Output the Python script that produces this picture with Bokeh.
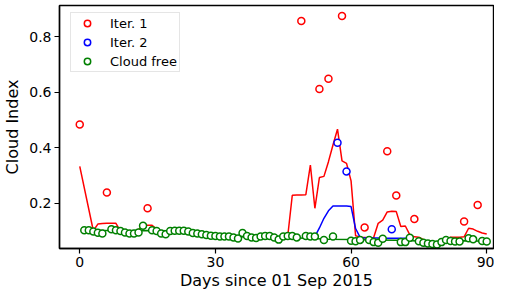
from bokeh.plotting import figure
from bokeh.models import Range1d, FixedTicker, Legend, LegendItem
from bokeh.embed import file_html
from bokeh.resources import INLINE

# ---- data ----
cloudfree_days = [1, 2, 3, 4, 5, 7, 8, 9, 10, 11, 12, 13, 14, 16, 17, 18, 19, 20,
                  21, 22, 23, 24, 25, 26, 27, 28, 29, 30, 31, 32, 33, 34, 35, 36,
                  37, 38, 39, 40, 41, 42, 43, 44, 45, 46, 47, 48, 50, 51, 52, 54,
                  56, 60, 61, 62, 64, 65, 66, 67, 71, 72, 73, 75, 76, 77, 78, 79,
                  80, 81, 82, 83, 84, 86, 87, 89, 90]
cloudfree_vals = [0.102, 0.102, 0.097, 0.093, 0.090, 0.105, 0.102, 0.099, 0.094,
                  0.090, 0.090, 0.094, 0.118, 0.102, 0.099, 0.090, 0.087, 0.099,
                  0.100, 0.100, 0.100, 0.097, 0.092, 0.090, 0.087, 0.085, 0.082,
                  0.081, 0.079, 0.079, 0.079, 0.076, 0.072, 0.092, 0.081, 0.076,
                  0.074, 0.079, 0.081, 0.081, 0.076, 0.068, 0.079, 0.081, 0.081,
                  0.076, 0.081, 0.079, 0.079, 0.067, 0.079, 0.064, 0.062, 0.067,
                  0.067, 0.059, 0.057, 0.071, 0.059, 0.059, 0.075, 0.062, 0.057,
                  0.054, 0.052, 0.050, 0.059, 0.067, 0.063, 0.061, 0.061, 0.073,
                  0.069, 0.063, 0.061]

iter1_days = [0, 6, 15, 49, 53, 55, 58, 63, 68, 70, 74, 85, 88]
iter1_vals = [0.483, 0.238, 0.181, 0.856, 0.611, 0.648, 0.874, 0.112, 0.387,
              0.227, 0.142, 0.133, 0.193]

iter2_days = [57, 59, 69]
iter2_vals = [0.417, 0.314, 0.105]

red_line_days = [0, 3, 4, 5, 6, 7, 8, 9, 10, 11, 12, 13, 14, 15, 16, 17, 18, 19,
                 20, 21, 22, 23, 24, 25, 26, 27, 28, 29, 30, 31, 32, 33, 34, 35,
                 36, 37, 38, 39, 40, 41, 42, 43, 44, 45, 46, 47, 48, 49, 50, 51,
                 52, 53, 54, 55, 56, 57, 58, 59, 60, 61, 62, 63, 64, 65, 66, 67,
                 68, 69, 70, 71, 72, 73, 74, 75, 76, 77, 78, 79, 80, 81, 82, 83,
                 84, 85, 86, 87, 88, 89, 90]
red_line_vals = [0.332, 0.100, 0.124, 0.126, 0.127, 0.127, 0.127, 0.099, 0.094,
                 0.090, 0.090, 0.104, 0.118, 0.120, 0.120, 0.106, 0.090, 0.087,
                 0.099, 0.100, 0.100, 0.100, 0.097, 0.092, 0.090, 0.087, 0.085,
                 0.082, 0.081, 0.079, 0.079, 0.079, 0.076, 0.072, 0.085, 0.081,
                 0.076, 0.074, 0.079, 0.081, 0.081, 0.076, 0.072, 0.079, 0.081,
                 0.228, 0.229, 0.229, 0.230, 0.337, 0.181, 0.292, 0.296, 0.349,
                 0.409, 0.466, 0.352, 0.343, 0.280, 0.082, 0.077, 0.076, 0.075,
                 0.076, 0.127, 0.138, 0.168, 0.170, 0.169, 0.115, 0.117, 0.085,
                 0.078, 0.077, 0.068, 0.054, 0.052, 0.050, 0.059, 0.067, 0.077,
                 0.077, 0.077, 0.078, 0.109, 0.106, 0.098, 0.092, 0.088]

blue_line_days = [52, 53, 54, 55, 56, 57, 58, 59, 60, 61, 62, 63, 64, 65, 66, 67,
                  68, 69, 70, 71, 72, 73]
blue_line_vals = [0.079, 0.110, 0.145, 0.172, 0.189, 0.189, 0.189, 0.189, 0.187,
                  0.108, 0.076, 0.074, 0.074, 0.074, 0.074, 0.073, 0.073, 0.073,
                  0.073, 0.073, 0.073, 0.073]

green_line_days = [1, 5, 10, 15, 20, 25, 30, 35, 40, 45, 50, 55, 60, 65, 70, 75,
                   80, 85, 90]
green_line_vals = [0.102, 0.101, 0.100, 0.101, 0.100, 0.093, 0.083, 0.078, 0.077,
                   0.076, 0.073, 0.069, 0.068, 0.067, 0.066, 0.063, 0.059, 0.064,
                   0.062]

x_ticks = [0, 30, 60, 90]
y_ticks = [0.2, 0.4, 0.6, 0.8]
x_label = "Days since 01 Sep 2015"
y_label = "Cloud Index"
legend_labels = ["Iter. 1", "Iter. 2", "Cloud free"]

RED = "#ff0000"
BLUE = "#0000ff"
GREEN = "#008000"
FONT = "DejaVu Sans"

p = figure(width=494, height=292, output_backend="svg", toolbar_location=None,
           x_range=Range1d(-4.48, 91.5), y_range=Range1d(0.036, 0.912),
           min_border_left=58, min_border_right=1, min_border_top=5,
           min_border_bottom=44)
p.background_fill_color = "white"
p.border_fill_color = "white"
p.outline_line_color = "black"
p.outline_line_width = 1.4
p.grid.visible = False

for ax in (p.xaxis[0], p.yaxis[0]):
    ax.major_label_text_font = FONT
    ax.major_label_text_font_size = "14px"
    ax.major_label_text_color = "black"
    ax.axis_label_text_font = FONT
    ax.axis_label_text_font_size = "16px"
    ax.axis_label_text_font_style = "normal"
    ax.axis_label_text_color = "black"
    ax.axis_line_color = "black"
    ax.axis_line_width = 1.4
    ax.major_tick_line_color = "black"
    ax.major_tick_line_width = 1.2
    ax.major_tick_out = 5
    ax.major_tick_in = 0
    ax.minor_tick_line_color = None

p.xaxis.ticker = FixedTicker(ticks=x_ticks)
p.yaxis.ticker = FixedTicker(ticks=y_ticks)
p.xaxis.axis_label = x_label
p.yaxis.axis_label = y_label
p.xaxis.major_label_standoff = 3
p.xaxis.axis_label_standoff = 1
p.yaxis.major_label_standoff = 3
p.yaxis.axis_label_standoff = 4

p.line(green_line_days, green_line_vals, line_color=GREEN, line_width=1.5)
p.line(red_line_days, red_line_vals, line_color=RED, line_width=1.5)
p.line(blue_line_days, blue_line_vals, line_color=BLUE, line_width=1.5)

r1 = p.scatter(iter1_days, iter1_vals, marker="circle", size=7,
               line_color=RED, line_width=1.5, fill_color="white")
r2 = p.scatter(iter2_days, iter2_vals, marker="circle", size=7,
               line_color=BLUE, line_width=1.5, fill_color="white")
r3 = p.scatter(cloudfree_days, cloudfree_vals, marker="circle", size=7,
               line_color=GREEN, line_width=1.5, fill_color="white")

legend = Legend(items=[LegendItem(label=legend_labels[0], renderers=[r1]),
                       LegendItem(label=legend_labels[1], renderers=[r2]),
                       LegendItem(label=legend_labels[2], renderers=[r3])],
                location=(11, 176), margin=0, padding=2, spacing=3,
                glyph_width=28, glyph_height=16, label_height=16,
                label_standoff=9,
                label_text_font=FONT, label_text_font_size="13px",
                label_text_color="black",
                border_line_color="#cccccc", border_line_width=1,
                background_fill_alpha=0.8)
p.add_layout(legend, "center")

open("out.html", "w").write(file_html(p, INLINE))
